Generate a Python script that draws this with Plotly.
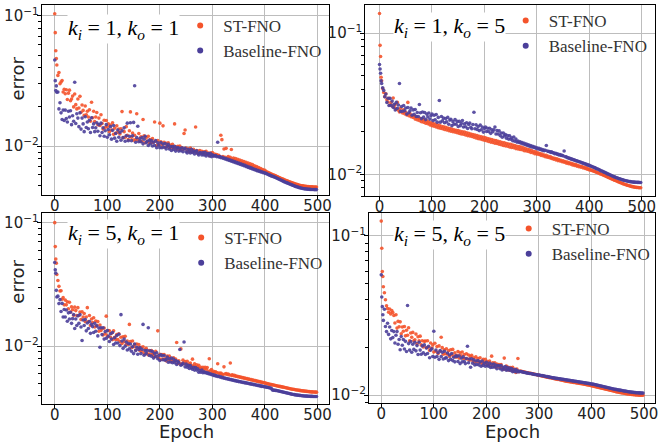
import plotly.graph_objects as go

# training epochs sampled (dense at the very start)
EPOCHS = [0, 1, 2, 3] + list(range(4, 500, 2))

# error values, in units of 1e-3
# k_i = 1, k_o = 1
ST_11 = [
    104, 74.4, 54.0, 47.0,
    42.0, 34.9, 36.7, 30.1, 31.1, 31.9, 26.0, 27.3, 25.2, 27.1,
    22.8, 25.5, 26.9, 22.3, 23.0, 24.2, 20.0, 25.1, 20.8, 19.3,
    23.0, 19.6, 24.1, 18.2, 20.7, 18.8, 17.2, 20.3, 17.4, 18.5,
    16.7, 19.0, 15.5, 21.7, 16.5, 18.5, 15.4, 16.7, 18.1, 14.6,
    16.4, 14.4, 17.4, 14.9, 13.5, 15.8, 13.9, 15.7, 14.1, 14.8,
    12.9, 14.5, 13.3, 15.1, 12.3, 13.7, 12.6, 14.3, 12.8, 13.5,
    12.4, 13.6, 18.4, 11.6, 12.9, 11.7, 14.1, 12.1, 11.2, 13.1,
    18.3, 11.7, 12.6, 11.1, 12.1, 11.2, 17.7, 11.2, 12.5, 10.9,
    11.8, 10.9, 16.0, 12.0, 10.6, 11.6, 10.9, 11.9, 10.6, 11.2,
    10.6, 11.4, 10.7, 15.3, 10.9, 10.1, 11.0, 10.3, 15.0, 10.8,
    10.2, 14.3, 10.7, 9.8, 10.5, 10.05, 10.6, 9.75, 10.2, 9.75,
    10.3, 9.65, 14.8, 9.85, 9.45, 9.95, 9.45, 10.0, 9.45, 9.7,
    9.4, 12.5, 13.3, 9.65, 9.2, 9.5, 9.0, 9.65, 9.25, 9.05,
    9.45, 9.05, 14.0, 9.25, 8.8, 9.1, 9.25, 8.8, 9.1, 8.8,
    9.05, 8.65, 9.1, 8.7, 8.85, 8.45, 8.85, 8.65, 8.9, 8.45,
    8.7, 8.5, 8.6, 8.4, 8.5, 8.3, 12.1, 11.2, 8.3, 9.5,
    8.2, 9.6, 8.1, 8.3, 8.0, 8.2, 9.4, 7.9, 8.1, 7.8,
    8.0, 7.7, 7.9, 7.6, 7.8, 7.5, 7.7, 7.4, 7.6, 7.3,
    7.5, 7.2, 7.4, 7.1, 7.3, 7.0, 7.2, 6.9, 7.05, 6.8,
    6.95, 6.7, 6.85, 6.6, 6.72, 6.5, 6.6, 6.42, 6.5, 6.35,
    6.3, 6.25, 6.2, 6.15, 6.1, 6.05, 6.0, 5.95, 5.9, 5.85,
    5.8, 5.75, 5.7, 5.66, 5.61, 5.57, 5.52, 5.48, 5.44, 5.4,
    5.36, 5.32, 5.28, 5.24, 5.21, 5.17, 5.14, 5.11, 5.08, 5.05,
    5.02, 5.0, 4.98, 4.96, 4.94, 4.92, 4.91, 4.9, 4.89, 4.88,
    4.87, 4.87, 4.86, 4.86, 4.85, 4.85, 4.85, 4.85,
]
BASE_11 = [
    45.8, 31.8, 26.7, 29.0,
    25.9, 26.0, 19.3, 21.5, 18.0, 16.0, 18.9, 15.7, 18.9, 16.3,
    15.3, 18.5, 16.7, 18.7, 14.6, 17.1, 15.5, 30.9, 14.9, 17.7,
    16.4, 14.1, 18.0, 13.5, 16.4, 14.8, 12.9, 16.8, 13.9, 15.3,
    13.6, 15.8, 12.7, 16.5, 13.9, 14.8, 12.9, 13.8, 15.1, 13.0,
    14.6, 12.0, 15.0, 12.7, 13.8, 11.9, 13.1, 14.6, 11.7, 13.4,
    12.2, 14.1, 11.3, 13.2, 14.4, 11.5, 12.5, 10.9, 13.3, 11.7,
    12.7, 11.1, 13.1, 11.6, 13.8, 10.9, 12.0, 15.0, 11.0, 11.9,
    15.1, 11.0, 12.0, 15.2, 29.1, 10.7, 11.6, 14.2, 10.8, 11.4,
    10.8, 11.6, 10.4, 11.3, 11.9, 10.6, 10.9, 10.1, 11.1, 10.4,
    11.0, 10.0, 10.7, 10.1, 11.0, 9.7, 10.6, 10.15, 9.7, 10.65,
    9.7, 10.35, 9.8, 10.45, 9.5, 9.95, 10.3, 9.5, 9.9, 9.25,
    9.9, 9.4, 9.95, 9.15, 9.6, 9.75, 9.15, 9.6, 9.2, 9.7,
    9.05, 9.5, 9.6, 9.05, 8.85, 9.45, 9.15, 8.85, 9.45, 8.95,
    9.2, 8.7, 9.05, 9.2, 8.75, 8.55, 8.9, 8.85, 8.55, 8.9,
    8.55, 8.95, 8.4, 8.7, 8.75, 8.4, 8.8, 8.3, 8.55, 8.4,
    8.4, 8.45, 8.3, 10.7, 8.25, 8.3, 8.15, 8.2, 8.05, 8.1,
    7.95, 8.0, 7.85, 7.9, 7.75, 7.8, 7.65, 7.7, 7.55, 7.6,
    7.45, 7.5, 7.35, 7.4, 7.25, 7.3, 7.15, 7.2, 7.05, 7.1,
    6.95, 7.0, 6.85, 6.9, 6.75, 6.8, 6.66, 6.7, 6.57, 6.6,
    6.48, 6.5, 6.4, 6.42, 6.32, 6.34, 6.25, 6.26, 6.17, 6.18,
    6.1, 6.05, 6.0, 5.95, 5.9, 5.86, 5.82, 5.78, 5.73, 5.68,
    5.63, 5.58, 5.53, 5.48, 5.43, 5.38, 5.33, 5.29, 5.25, 5.21,
    5.17, 5.13, 5.09, 5.05, 5.01, 4.97, 4.93, 4.9, 4.87, 4.84,
    4.81, 4.78, 4.76, 4.74, 4.72, 4.7, 4.69, 4.68, 4.67, 4.66,
    4.65, 4.65, 4.64, 4.64, 4.64, 4.63, 4.63, 4.63,
]

# k_i = 1, k_o = 5
ST_15 = [
    138, 82.0, 68.4, 48.7,
    46.0, 40.5, 38.0, 35.5, 37.2, 33.8, 32.5, 34.6, 31.0, 32.2,
    30.5, 34.7, 29.8, 31.2, 29.0, 32.3, 28.4, 27.6, 29.4, 27.9,
    27.2, 28.6, 26.8, 27.5, 26.3, 32.3, 26.0, 26.9, 25.6, 26.2,
    25.3, 25.9, 24.6, 25.6, 24.3, 25.1, 24.0, 24.8, 23.6, 24.5,
    23.4, 24.2, 23.0, 23.9, 22.8, 23.5, 22.4, 23.2, 22.1, 22.9,
    21.9, 22.7, 21.6, 22.4, 21.4, 22.2, 21.2, 21.9, 21.0, 21.7,
    20.8, 21.5, 20.6, 21.3, 20.4, 21.1, 20.2, 20.9, 20.0, 20.7,
    19.9, 20.5, 19.7, 20.4, 19.5, 20.2, 19.3, 20.0, 19.2, 19.9,
    19.0, 19.7, 18.8, 19.5, 18.7, 19.3, 18.5, 19.1, 18.3, 19.0,
    18.1, 18.8, 17.9, 18.6, 17.8, 18.4, 17.6, 18.3, 17.4, 18.1,
    17.3, 17.9, 17.1, 17.8, 16.9, 17.6, 16.8, 17.4, 16.6, 17.3,
    16.5, 17.1, 16.3, 17.0, 16.2, 16.8, 16.0, 16.7, 15.9, 16.5,
    15.8, 16.4, 15.6, 16.3, 15.5, 16.1, 15.4, 16.0, 15.2, 15.8,
    15.1, 15.7, 15.0, 15.6, 14.9, 15.4, 14.7, 15.2, 14.6, 15.0,
    14.5, 14.9, 14.3, 14.7, 14.2, 14.5, 14.0, 14.4, 13.9, 14.2,
    13.8, 14.0, 13.6, 13.9, 13.5, 13.7, 13.3, 13.6, 13.2, 13.4,
    13.1, 13.3, 12.95, 13.1, 12.8, 13.0, 12.65, 12.85, 12.5, 12.7,
    12.4, 12.55, 12.25, 12.45, 12.15, 12.3, 12.0, 12.2, 11.9, 12.05,
    11.8, 11.95, 11.65, 11.8, 11.55, 11.7, 11.42, 11.55, 11.3, 11.45,
    11.2, 11.35, 11.1, 11.2, 10.98, 11.1, 10.86, 10.95, 10.74, 10.8,
    10.62, 10.65, 10.5, 10.5, 10.38, 10.35, 10.24, 10.2, 10.1, 10.05,
    9.95, 9.9, 9.8, 9.75, 9.65, 9.6, 9.5, 9.45, 9.35, 9.3,
    9.22, 9.15, 9.08, 9.02, 8.95, 8.88, 8.82, 8.76, 8.7, 8.64,
    8.58, 8.52, 8.47, 8.42, 8.37, 8.32, 8.28, 8.24, 8.2, 8.17,
    8.14, 8.11, 8.09, 8.07, 8.05, 8.04, 8.03, 8.02,
]
BASE_15 = [
    60.0, 55.7, 52.0, 46.0,
    44.0, 41.0, 39.3, 35.4, 37.1, 32.3, 34.6, 30.7, 34.5, 30.8,
    33.0, 29.8, 31.3, 28.6, 32.3, 29.4, 31.0, 44.0, 27.9, 30.2,
    28.0, 30.7, 28.2, 29.5, 26.7, 29.7, 27.3, 28.2, 29.5, 26.2,
    28.6, 26.6, 28.8, 25.7, 27.4, 25.7, 31.2, 27.3, 24.8, 27.6,
    25.4, 27.4, 24.4, 26.7, 25.5, 27.2, 24.6, 26.0, 26.7, 24.0,
    26.2, 24.3, 26.5, 23.4, 25.3, 33.3, 23.4, 25.7, 23.9, 25.0,
    23.2, 24.8, 23.5, 25.3, 22.6, 24.2, 24.5, 22.1, 23.6, 22.6,
    24.4, 22.6, 23.7, 21.8, 23.7, 22.1, 22.9, 24.0, 21.6, 22.8,
    21.7, 23.2, 21.1, 22.5, 23.1, 21.5, 21.0, 22.5, 27.5, 21.0,
    22.4, 20.8, 21.8, 20.4, 22.3, 20.7, 21.6, 19.9, 21.1, 21.6,
    20.1, 21.2, 20.1, 21.2, 19.5, 20.7, 20.0, 20.7, 21.6, 19.3,
    20.4, 19.3, 20.3, 18.8, 19.6, 18.3, 19.6, 18.7, 19.1, 18.0,
    18.8, 17.75, 18.75, 17.7, 18.1, 17.3, 18.35, 17.15, 17.75, 16.9,
    17.2, 16.8, 17.0, 16.6, 16.8, 16.4, 16.6, 16.2, 16.4, 16.0,
    16.2, 15.8, 16.0, 15.6, 15.8, 15.5, 15.6, 15.3, 15.4, 15.1,
    15.3, 15.0, 15.1, 14.8, 14.9, 14.7, 14.8, 16.0, 14.6, 14.5,
    14.5, 14.3, 14.4, 14.2, 14.2, 14.0, 14.1, 13.9, 13.9, 13.7,
    13.8, 13.6, 13.6, 13.5, 14.6, 13.3, 13.3, 13.1, 13.1, 12.95,
    12.9, 12.8, 12.75, 12.65, 12.6, 12.5, 12.45, 12.35, 12.3, 12.2,
    12.15, 12.05, 12.0, 11.9, 11.85, 11.75, 11.7, 11.6, 11.55, 11.45,
    11.4, 11.3, 11.2, 11.15, 11.05, 10.95, 10.9, 10.8, 10.7, 10.6,
    10.55, 10.45, 10.35, 10.3, 10.2, 10.1, 10.05, 9.95, 9.88, 9.8,
    9.72, 9.65, 9.58, 9.51, 9.45, 9.39, 9.33, 9.27, 9.22, 9.17,
    9.12, 9.07, 9.03, 8.99, 8.95, 8.92, 8.89, 8.86, 8.84, 8.82,
    8.8, 8.79, 8.78, 8.77, 8.76, 8.76, 8.75, 8.75,
]

# k_i = 5, k_o = 1
ST_51 = [
    100, 64.0, 50.7, 47.0,
    38.0, 34.0, 30.5, 28.0, 28.1, 24.0, 24.7, 21.6, 23.6, 21.6,
    22.9, 20.1, 22.7, 18.9, 20.8, 19.7, 17.8, 20.7, 19.4, 17.7,
    20.5, 17.7, 18.9, 16.4, 19.0, 17.2, 18.4, 15.8, 17.2, 20.5,
    15.8, 17.7, 14.7, 16.6, 15.5, 17.0, 14.3, 16.0, 14.6, 15.8,
    13.2, 14.8, 13.4, 13.9, 12.3, 14.0, 12.6, 17.5, 12.1, 13.4,
    13.3, 11.8, 12.7, 11.3, 13.3, 11.8, 11.3, 12.4, 11.3, 12.6,
    10.9, 11.8, 10.5, 11.9, 10.9, 12.0, 10.3, 11.0, 10.3, 15.0,
    10.9, 9.7, 11.0, 9.9, 10.3, 9.3, 10.4, 9.7, 10.3, 9.2,
    9.8, 9.1, 9.9, 8.7, 9.4, 9.6, 8.7, 8.5, 9.2, 8.6,
    9.2, 8.5, 8.8, 8.2, 9.1, 8.3, 13.3, 8.0, 8.6, 7.8,
    8.55, 7.85, 8.55, 7.9, 7.6, 8.3, 7.8, 8.3, 7.55, 7.85,
    7.55, 8.05, 7.55, 7.85, 10.7, 7.25, 7.6, 7.2, 9.5, 7.2,
    7.7, 7.2, 7.5, 7.2, 7.55, 6.95, 7.2, 7.3, 6.95, 7.85,
    6.9, 7.2, 6.75, 7.05, 6.8, 7.0, 6.6, 6.75, 6.55, 6.75,
    6.5, 6.75, 6.5, 6.7, 6.25, 7.9, 6.3, 6.45, 6.1, 6.25,
    6.15, 6.2, 6.1, 7.2, 6.05, 6.0, 6.05, 5.95, 5.9, 6.8,
    5.95, 6.0, 5.9, 5.95, 5.85, 7.3, 5.8, 5.85, 5.75, 5.8,
    5.7, 5.72, 5.65, 5.67, 5.6, 5.62, 5.55, 5.57, 5.5, 5.52,
    5.45, 5.47, 5.4, 5.42, 5.35, 5.37, 5.3, 5.32, 5.25, 5.27,
    5.2, 5.22, 5.15, 5.17, 5.1, 5.12, 5.05, 5.07, 5.02, 5.0,
    4.97, 4.95, 4.92, 4.9, 4.88, 4.86, 4.84, 4.82, 4.8, 4.78,
    4.76, 4.74, 4.72, 4.7, 4.68, 4.66, 4.64, 4.62, 4.6, 4.58,
    4.56, 4.54, 4.52, 4.5, 4.48, 4.47, 4.45, 4.44, 4.42, 4.41,
    4.39, 4.38, 4.36, 4.35, 4.34, 4.33, 4.32, 4.31, 4.3, 4.29,
    4.28, 4.27, 4.26, 4.26, 4.25, 4.25, 4.24, 4.24,
]
BASE_51 = [
    47.6, 41.6, 39.0, 28.3,
    25.0, 25.4, 22.1, 23.8, 19.1, 22.2, 17.2, 19.8, 17.2, 19.6,
    15.9, 18.6, 16.6, 18.8, 15.3, 16.7, 18.0, 13.9, 16.6, 14.7,
    17.6, 15.3, 18.0, 14.3, 11.1, 16.3, 14.7, 16.4, 13.3, 15.4,
    13.9, 15.8, 12.7, 15.0, 14.4, 12.9, 15.3, 13.2, 14.6, 12.1,
    14.0, 9.8, 14.1, 12.4, 14.1, 11.4, 13.1, 11.6, 13.4, 12.0,
    10.9, 12.6, 11.4, 12.9, 10.3, 11.7, 10.6, 12.2, 10.6, 12.5,
    10.1, 18.0, 11.0, 9.6, 11.4, 10.0, 10.8, 9.3, 10.5, 9.5,
    10.4, 9.1, 9.9, 8.7, 10.4, 9.2, 9.8, 8.6, 9.4, 9.75,
    8.7, 9.45, 15.0, 8.45, 9.2, 8.7, 9.2, 14.1, 8.4, 9.15,
    8.3, 9.05, 8.0, 8.7, 8.25, 8.85, 7.9, 8.4, 7.65, 8.5,
    8.35, 7.75, 8.4, 7.7, 7.8, 8.15, 7.4, 7.9, 7.45, 8.0,
    7.35, 7.85, 7.35, 7.65, 7.1, 7.5, 7.35, 9.4, 7.0, 7.1,
    7.25, 10.8, 6.8, 7.15, 6.75, 7.0, 6.6, 6.95, 6.65, 6.5,
    6.75, 6.4, 6.7, 6.4, 6.55, 6.15, 6.35, 6.15, 6.4, 6.1,
    6.2, 6.1, 6.12, 6.02, 6.05, 5.95, 5.98, 5.88, 5.9, 5.8,
    5.82, 5.74, 5.76, 5.68, 5.7, 5.62, 5.64, 5.56, 5.58, 5.5,
    5.52, 5.45, 5.47, 5.4, 5.42, 5.35, 5.37, 5.3, 5.32, 5.25,
    5.27, 5.2, 5.22, 5.16, 5.17, 5.12, 5.13, 5.08, 5.09, 5.04,
    5.05, 5.0, 5.01, 4.96, 4.97, 4.92, 4.93, 4.88, 4.89, 4.84,
    4.85, 4.8, 4.81, 4.76, 4.77, 4.72, 4.73, 4.69, 4.69, 4.66,
    4.65, 4.62, 4.6, 4.58, 4.55, 4.42, 4.4, 4.39, 4.38, 4.37,
    4.35, 4.33, 4.31, 4.29, 4.27, 4.25, 4.23, 4.21, 4.19, 4.17,
    4.15, 4.13, 4.11, 4.09, 4.08, 4.06, 4.05, 4.03, 4.02, 4.01,
    4.0, 3.99, 3.98, 3.97, 3.96, 3.95, 3.95, 3.94, 3.94, 3.93,
    3.93, 3.92, 3.92, 3.92, 3.91, 3.91, 3.91, 3.91,
]

# k_i = 5, k_o = 5
ST_55 = [
    124, 83.8, 59.8, 55.7,
    48.0, 44.0, 39.8, 36.5, 35.0, 33.2, 34.8, 32.4, 34.0, 33.1,
    31.7, 28.4, 32.0, 26.4, 29.1, 26.9, 28.9, 24.3, 26.8, 25.2,
    27.0, 23.6, 25.6, 23.8, 26.5, 22.0, 24.6, 23.1, 24.8, 22.0,
    22.3, 24.2, 21.0, 23.3, 22.0, 23.5, 20.7, 22.0, 20.1, 21.8,
    21.9, 19.9, 22.0, 20.0, 19.1, 21.3, 19.8, 20.7, 18.7, 21.2,
    18.9, 20.2, 18.3, 20.4, 18.9, 23.1, 19.9, 18.1, 19.3, 18.2,
    19.6, 18.1, 19.0, 17.5, 19.3, 18.0, 19.4, 17.6, 18.5, 17.3,
    17.8, 18.8, 17.1, 18.5, 17.7, 18.7, 17.0, 18.0, 17.0, 18.2,
    16.9, 17.9, 16.6, 17.5, 17.8, 16.5, 17.2, 16.1, 17.4, 16.4,
    17.0, 16.1, 17.2, 16.1, 15.7, 16.8, 16.1, 16.8, 15.6, 16.3,
    15.6, 16.4, 15.3, 17.6, 16.0, 15.3, 16.0, 15.0, 15.7, 15.2,
    15.6, 14.9, 15.6, 14.95, 14.55, 17.1, 14.6, 15.25, 14.45, 15.0,
    14.35, 14.9, 14.4, 14.95, 14.15, 14.55, 13.9, 14.6, 17.0, 14.05,
    14.2, 14.15, 14.1, 14.05, 14.0, 13.95, 13.9, 13.85, 13.8, 13.75,
    13.75, 13.7, 13.65, 13.6, 13.55, 13.5, 13.45, 13.4, 13.35, 13.3,
    13.25, 13.2, 13.15, 13.1, 13.06, 13.02, 12.98, 12.94, 12.9, 12.86,
    12.82, 12.78, 12.74, 12.7, 12.66, 12.62, 12.58, 12.54, 12.5, 12.46,
    12.42, 12.38, 12.34, 12.3, 12.26, 12.22, 12.19, 12.16, 12.13, 12.1,
    12.07, 12.04, 12.01, 11.98, 11.95, 11.92, 11.89, 11.86, 11.83, 11.8,
    11.77, 11.74, 11.7, 11.66, 11.62, 11.58, 11.54, 11.5, 11.46, 11.42,
    11.38, 11.34, 11.3, 11.26, 11.22, 11.18, 11.14, 11.1, 11.06, 11.02,
    10.98, 10.94, 10.9, 10.86, 10.82, 10.78, 10.74, 10.7, 10.66, 10.62,
    10.58, 10.54, 10.5, 10.47, 10.44, 10.41, 10.38, 10.35, 10.32, 10.29,
    10.26, 10.23, 10.2, 10.18, 10.16, 10.14, 10.12, 10.1, 10.08, 10.06,
    10.05, 10.04, 10.03, 10.02, 10.01, 10.0, 10.0, 9.99,
]
BASE_55 = [
    57.0, 41.4, 36.0, 32.0,
    29.5, 34.7, 27.0, 25.1, 28.3, 24.1, 26.8, 22.6, 25.5, 23.0,
    25.1, 21.3, 23.8, 25.1, 20.9, 22.4, 19.3, 23.4, 20.6, 22.4,
    19.5, 21.8, 18.8, 36.6, 21.1, 19.2, 21.7, 18.6, 20.9, 19.4,
    21.5, 19.0, 20.5, 18.0, 21.5, 19.2, 18.1, 20.4, 18.5, 20.7,
    18.0, 19.8, 18.3, 20.3, 17.2, 19.2, 19.6, 17.5, 25.2, 17.3,
    19.2, 17.5, 18.5, 16.8, 19.1, 17.5, 18.6, 16.9, 18.9, 17.1,
    17.2, 18.4, 16.5, 17.9, 16.8, 18.3, 16.5, 17.3, 16.2, 17.7,
    17.5, 16.3, 17.7, 15.8, 17.1, 16.2, 17.4, 16.3, 15.8, 17.0,
    20.3, 16.0, 16.9, 15.0, 16.95, 15.9, 16.7, 15.5, 16.4, 15.6,
    16.5, 15.5, 16.2, 15.2, 16.4, 15.4, 15.85, 15.2, 16.1, 15.4,
    15.2, 15.9, 14.95, 15.65, 15.0, 15.7, 15.05, 15.45, 14.65, 15.35,
    15.3, 14.65, 15.35, 14.4, 14.95, 14.6, 15.15, 14.35, 14.9, 14.4,
    14.8, 14.3, 14.7, 14.05, 14.45, 14.1, 14.5, 14.0, 14.25, 14.05,
    14.1, 14.1, 14.0, 14.0, 13.9, 13.9, 13.8, 13.8, 13.75, 13.7,
    13.7, 13.65, 13.6, 13.55, 13.5, 13.5, 13.45, 13.4, 13.4, 13.35,
    13.3, 13.28, 13.24, 13.2, 13.16, 13.12, 13.08, 13.04, 13.0, 12.96,
    12.92, 12.88, 12.85, 12.82, 12.79, 12.76, 12.73, 12.7, 12.67, 12.64,
    12.61, 12.58, 12.55, 12.52, 12.49, 12.46, 12.43, 12.4, 12.37, 12.34,
    12.31, 12.28, 12.25, 12.22, 12.19, 12.16, 12.13, 12.1, 12.07, 12.04,
    12.01, 11.98, 11.95, 11.92, 11.89, 11.86, 11.83, 11.8, 11.77, 11.74,
    11.71, 11.67, 11.63, 11.59, 11.55, 11.51, 11.47, 11.43, 11.39, 11.35,
    11.31, 11.27, 11.23, 11.19, 11.15, 11.11, 11.07, 11.03, 10.99, 10.95,
    10.91, 10.88, 10.85, 10.82, 10.79, 10.76, 10.73, 10.7, 10.67, 10.64,
    10.61, 10.58, 10.55, 10.52, 10.5, 10.48, 10.46, 10.44, 10.42, 10.4,
    10.38, 10.37, 10.36, 10.35, 10.34, 10.33, 10.32, 10.31,
]

SERIES_NAMES = ["ST-FNO", "Baseline-FNO"]
PANEL_LABELS = [
    "<i>k</i><sub><i>i</i></sub> = 1, <i>k</i><sub><i>o</i></sub> = 1",
    "<i>k</i><sub><i>i</i></sub> = 1, <i>k</i><sub><i>o</i></sub> = 5",
    "<i>k</i><sub><i>i</i></sub> = 5, <i>k</i><sub><i>o</i></sub> = 1",
    "<i>k</i><sub><i>i</i></sub> = 5, <i>k</i><sub><i>o</i></sub> = 5",
]
X_TICKS = [0, 100, 200, 300, 400, 500]
Y_TICKS = [0.01, 0.1]
Y_TICKTEXT = ["10<sup>\u22122</sup>", "10<sup>\u22121</sup>"]
Y_MINOR = [0.002, 0.003, 0.004, 0.005, 0.006, 0.007, 0.008, 0.009,
           0.02, 0.03, 0.04, 0.05, 0.06, 0.07, 0.08, 0.09, 0.2]

COLORS = ["#f4532b", "#4b3f9a"]
W, H = 658, 445

# pixel geometry of each panel (left, right, top, bottom) + axis ranges
panels = [
    dict(data=(ST_11, BASE_11), box=(42, 331, 4, 195), xr=(-24.6, 522.7), yr=(-2.377, -0.916),
         lab=(67, 28), leg=(178, 7), ylabel=(18, 78), xlabel=None),
    dict(data=(ST_15, BASE_15), box=(367, 658, 4, 196), xr=(-27.1, 525.2), yr=(-2.155, -0.80),
         lab=(395, 26), leg=(505, 2), ylabel=None, xlabel=None),
    dict(data=(ST_51, BASE_51), box=(42, 331, 213, 405), xr=(-24.6, 522.7), yr=(-2.470, -0.922),
         lab=(67, 234), leg=(179, 220), ylabel=(18, 282), xlabel=(187, 432)),
    dict(data=(ST_55, BASE_55), box=(370.7, 658, 212.7, 404), xr=(-23.3, 520.8), yr=(-2.05, -0.854),
         lab=(395, 235), leg=(508, 211), ylabel=None, xlabel=(515, 432)),
]

fig = go.Figure()
layout = {}
annotations = []

for i, p in enumerate(panels):
    n = "" if i == 0 else str(i + 1)
    leg = "legend" + n
    for j, vals in enumerate(p["data"]):
        k = min(len(vals), len(EPOCHS))
        fig.add_trace(go.Scatter(
            x=EPOCHS[:k], y=[v / 1000 for v in vals[:k]],
            mode="markers", name=SERIES_NAMES[j], showlegend=False,
            marker=dict(color=COLORS[j], size=3.6, opacity=0.9, line=dict(width=0)),
            xaxis="x" + n, yaxis="y" + n,
        ))
    # legend entries (larger symbols, as in the original legend)
    for j in range(2):
        fig.add_trace(go.Scatter(
            x=[None], y=[None], mode="markers", name=SERIES_NAMES[j],
            marker=dict(color=COLORS[j], size=6),
            xaxis="x" + n, yaxis="y" + n, legend=leg,
        ))
    l, r, t, b = p["box"]
    axis_common = dict(
        showline=True, linecolor="black", linewidth=1.3, mirror=True,
        ticks="outside", ticklen=4, tickcolor="black", tickwidth=1,
        showgrid=True, gridcolor="#bdbdbd", gridwidth=1,
        tickfont=dict(family="DejaVu Sans", size=15, color="#222"),
    )
    layout["xaxis" + n] = dict(
        axis_common, domain=[l / W, min(r / W, 1)], range=list(p["xr"]),
        anchor="y" + n, tickvals=X_TICKS, zeroline=True, zerolinecolor="#bdbdbd",
        zerolinewidth=1, ticklabelstandoff=-7, ticklabeloverflow="allow",
    )
    layout["yaxis" + n] = dict(
        axis_common, domain=[1 - b / H, 1 - t / H], type="log", range=list(p["yr"]),
        anchor="x" + n, tickvals=Y_TICKS, ticktext=Y_TICKTEXT, ticklabelstandoff=-5,
        minor=dict(tickvals=Y_MINOR, ticks="outside", ticklen=3, tickcolor="black", showgrid=False),
    )
    lx, ly = p["leg"]
    layout[leg] = dict(
        x=lx / W, y=1 - ly / H, xanchor="left", yanchor="top",
        bgcolor="rgba(0,0,0,0)", borderwidth=0, itemwidth=36,
        font=dict(family="Liberation Serif", size=17, color="#333"),
    )
    ax, ay = p["lab"]
    annotations.append(dict(
        text=PANEL_LABELS[i], x=ax / W, y=1 - ay / H, xref="paper", yref="paper",
        xanchor="left", yanchor="middle", showarrow=False, bgcolor="white", borderpad=0,
        font=dict(family="Liberation Serif", size=22, color="black"),
    ))
    if p["ylabel"]:
        ex, ey = p["ylabel"]
        annotations.append(dict(
            text="error", x=ex / W, y=1 - ey / H, xref="paper", yref="paper",
            xanchor="center", yanchor="middle", textangle=-90, showarrow=False,
            font=dict(family="DejaVu Sans", size=18, color="#222"),
        ))
    if p["xlabel"]:
        ex, ey = p["xlabel"]
        annotations.append(dict(
            text="Epoch", x=ex / W, y=1 - ey / H, xref="paper", yref="paper",
            xanchor="center", yanchor="middle", showarrow=False,
            font=dict(family="DejaVu Sans", size=18, color="#222"),
        ))

fig.update_layout(
    width=W, height=H, margin=dict(l=0, r=0, t=0, b=0),
    paper_bgcolor="white", plot_bgcolor="white",
    annotations=annotations, showlegend=True,
    **layout,
)

# the page body has a default 8px margin; drop it so the figure fills the window
fig.write_html("out.html", config={"displayModeBar": False},
               post_script="document.body.style.margin='0';")
